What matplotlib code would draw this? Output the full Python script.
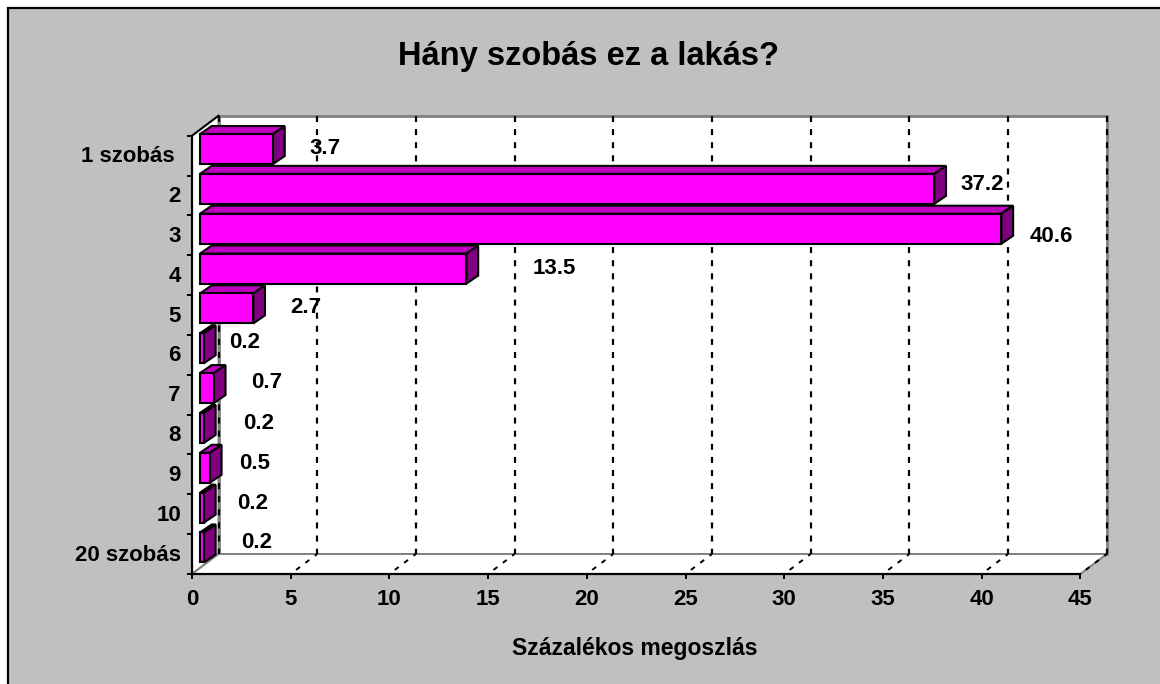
import matplotlib
matplotlib.use('Agg')
import matplotlib.pyplot as plt
from matplotlib.patches import Polygon, Rectangle

categories = ['1 szobás ', '2', '3', '4', '5', '6', '7', '8', '9', '10', '20 szobás']
shares = [3.7, 37.2, 40.6, 13.5, 2.7, 0.2, 0.7, 0.2, 0.5, 0.2, 0.2]
xticks = [0, 5, 10, 15, 20, 25, 30, 35, 40, 45]

# hand placed value labels, pixels from the end of the bar
label_dx = [60, 56, 58, 96, 61, 49, 61, 63, 53, 57, 61]
label_dy = [7, 11, -1, 7, 8, 12, 12, 11, 11, 11, 12]

W, H = 1160, 684
FS = 16
plt.rcParams['font.family'] = ['Liberation Sans', 'DejaVu Sans']
plt.rcParams['font.weight'] = 'bold'

fig = plt.figure(figsize=(W / 100, H / 100), dpi=100, facecolor='white')
# grey chart area sits behind the axes
fig.add_artist(Rectangle((7.5 / W, -0.01), (W - 7.5) / W + 0.01, 1.01 - 7.5 / H, transform=fig.transFigure,
                         facecolor='#c0c0c0', edgecolor='black', linewidth=1.6, zorder=-1))

ax = fig.add_axes([192 / W, (H - 574) / H, 888.3 / W, 438.3 / H])
ax.set_xlim(0, 45)
ax.set_ylim(11, 0)
ax.patch.set_visible(False)

px_x = 888.3 / 45   # pixels per x unit
px_y = 438.3 / 11   # pixels per category

# depth of the fake 3d box
wall_x = 26.5 / px_x
wall_y = 20 / px_y
grey = '#808080'


def box(points, face, edge='black', lw=1.5, z=2):
    ax.add_patch(Polygon(points, closed=True, facecolor=face, edgecolor=edge, linewidth=lw,
                         clip_on=False, zorder=z, joinstyle='miter'))


# walls and floor
box([(wall_x, -wall_y), (45 + wall_x, -wall_y), (45 + wall_x, 11 - wall_y), (wall_x, 11 - wall_y)], 'white', grey, 2, 1)
box([(0, 0), (wall_x, -wall_y), (wall_x, 11 - wall_y), (0, 11)], 'white', grey, 1.4, 1)
box([(0, 11), (45, 11), (45 + wall_x, 11 - wall_y), (wall_x, 11 - wall_y)], 'white', grey, 1.4, 1)
ax.plot([0, wall_x], [0, -wall_y], color='black', lw=1.4, clip_on=False, zorder=1.2)

# gridlines on back wall and floor
for t in xticks:
    ax.plot([t + wall_x, t + wall_x], [-wall_y, 11 - wall_y], color='black', lw=1.6,
            linestyle=(0, (2.7, 3.2)), dash_capstyle='butt', clip_on=False, zorder=1.5)
    if t > 0:
        ax.plot([t, t + wall_x], [11, 11 - wall_y], color='black', lw=1.4,
                linestyle=(2.5, (2.5, 3.5)), dash_capstyle='butt', clip_on=False, zorder=1.5)

# bars: front face through barh, then top and side faces
bar_x = 8 / px_x
bar_y = 6.6 / px_y
bar_h = 30 / px_y
depth_x = 11.7 / px_x
depth_y = 8 / px_y
centers = [i + 0.5 for i in range(len(categories))]
for c, v in zip(centers, shares):
    top = c - bar_y - bar_h / 2
    bottom = top + bar_h
    left = bar_x
    right = bar_x + v
    box([(left, top), (right, top), (right + depth_x, top - depth_y), (left + depth_x, top - depth_y)], '#c000c0', z=3)
    box([(right, top), (right + depth_x, top - depth_y), (right + depth_x, bottom - depth_y), (right, bottom)], '#800080', z=3)
ax.barh([c - bar_y for c in centers], shares, height=bar_h, left=bar_x, color='#ff00ff',
        edgecolor='black', linewidth=1.5, zorder=4, clip_on=False)

# value labels
for c, v, dx, dy in zip(centers, shares, label_dx, label_dy):
    ax.annotate(f'{v:.1f}', xy=(v, c), xytext=(dx * 0.72, dy * 0.72), textcoords='offset points',
                ha='center', va='center', fontsize=FS, fontweight='bold', color='black', zorder=6)

# axes
for s in ['top', 'right']:
    ax.spines[s].set_visible(False)
for s in ['left', 'bottom']:
    ax.spines[s].set_linewidth(1.6)
    ax.spines[s].set_zorder(5)
ax.set_xticks(xticks)
ax.set_yticks(range(12))
ax.set_yticklabels([])
ax.set_yticks([c + 1 / px_y for c in centers], labels=categories, minor=True)
ax.tick_params(axis='y', which='major', direction='out', length=3.6, width=1.4)
ax.tick_params(axis='y', which='minor', length=0, pad=8, labelsize=FS)
ax.tick_params(axis='x', direction='out', length=3.6, width=1.4, pad=7.5, labelsize=FS)
for lab in ax.get_yticklabels(minor=True):
    lab.set_va('center')

fig.text(589 / W, 1 - 57 / H, 'Hány szobás ez a lakás?', ha='center', va='center', fontsize=23.5, fontweight='bold')
fig.text(635 / W, 1 - 649 / H, 'Százalékos megoszlás', ha='center', va='center', fontsize=16.5, fontweight='bold')

fig.savefig('out.png', dpi=100, facecolor=fig.get_facecolor())
